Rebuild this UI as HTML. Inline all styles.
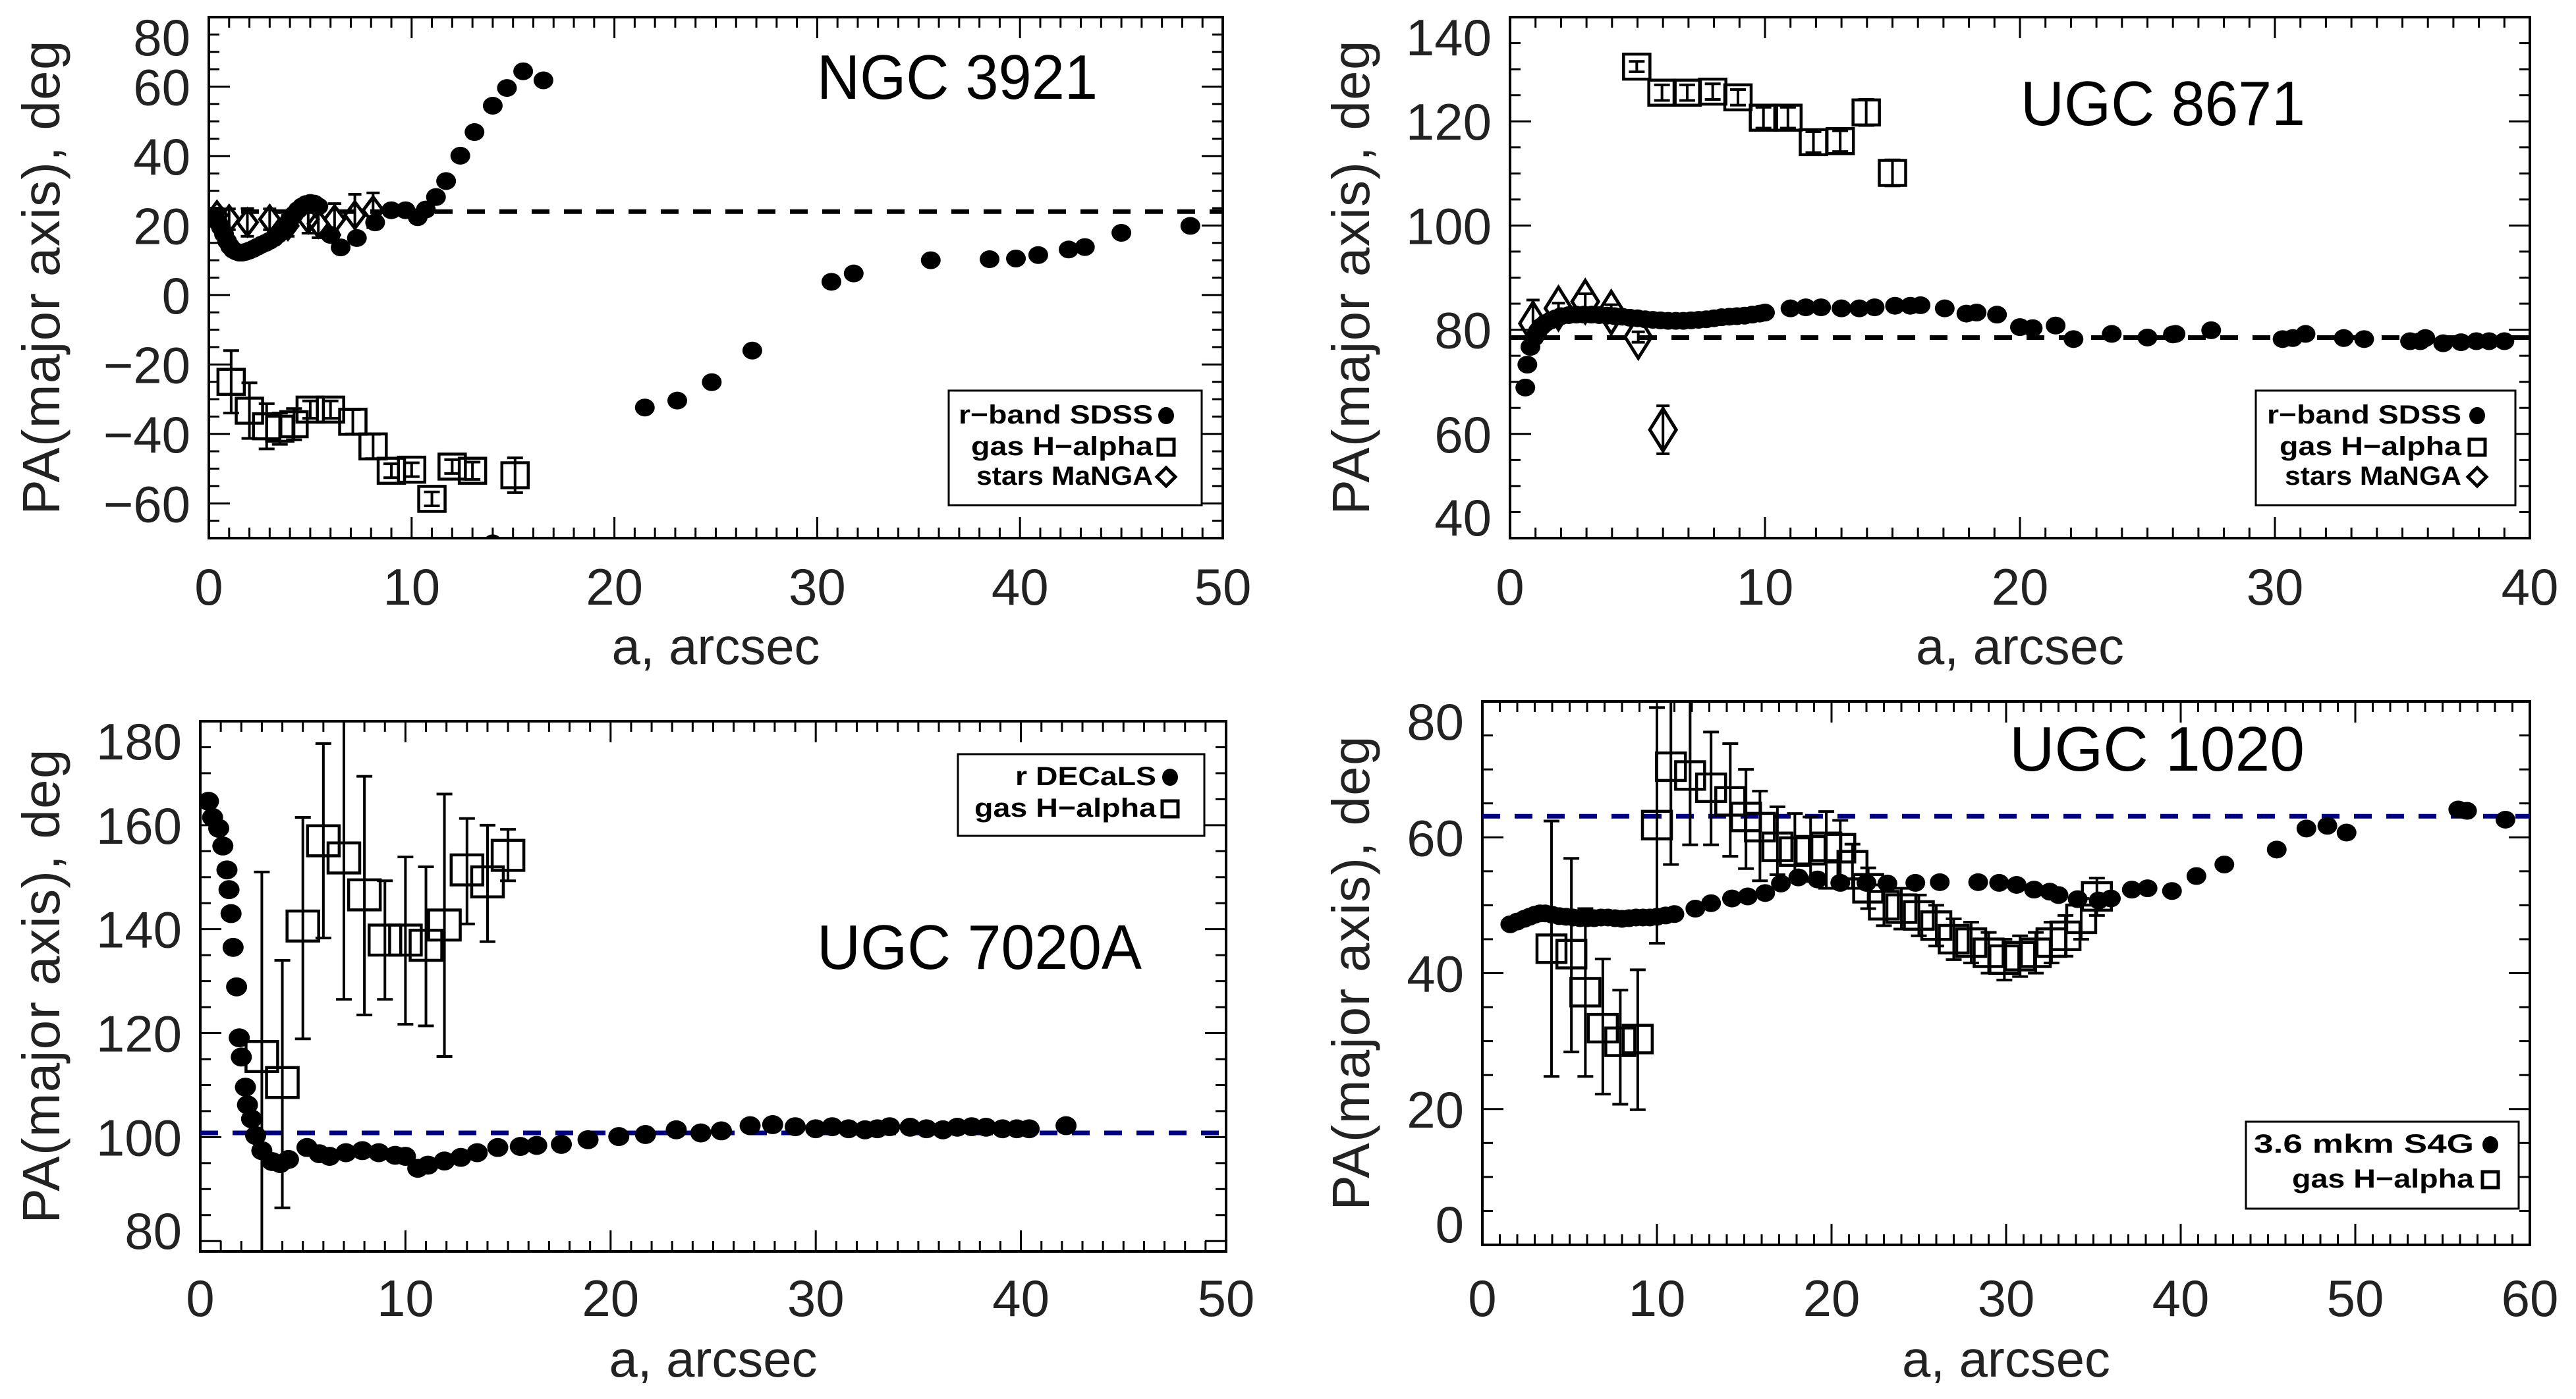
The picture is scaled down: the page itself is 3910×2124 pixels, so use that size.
<!DOCTYPE html>
<html><head><meta charset="utf-8"><title>PA profiles</title>
<style>html,body{margin:0;padding:0;background:#fff;}svg{display:block;}</style></head>
<body>
<svg id="fig" xmlns="http://www.w3.org/2000/svg" width="3910" height="2124" viewBox="0 0 3910 2124"></svg>
<script>
// ---------- NGC 3921 ----------
const p1CircX=[0.3,0.45,0.6,0.75,0.9,1.05,1.2,1.35,1.5,1.65,1.8,2.0,2.2,2.4,2.6,2.8,3.0,3.2,3.4,3.6,3.8,4.0,4.2,4.4,4.6,4.8,5.0,5.2,5.4,6.0,6.5,7.3,8.2,9.0,9.7,10.3,10.7,11.2,11.7,12.4,13.1,14.0,14.7,15.5,16.5,21.5,23.1,24.8,26.8,30.7,31.8,35.6,38.5,39.8,40.9,42.4,43.2,45.0,48.4,14.0];
const p1CircY=[22,21,19.5,17.5,15.5,14,13,12.5,12.2,12.2,12.4,12.8,13.3,13.9,14.5,15,15.6,16.3,17.3,18.5,20,21.7,23.2,24.5,25.5,26.2,26.5,26.3,25.5,17.3,13.7,16.4,20.9,24.4,24.4,22.4,24.6,28.2,32.8,40.1,46.9,54.5,59.6,64.4,61.8,-32.4,-30.4,-25.1,-16.0,3.8,6.2,10.0,10.3,10.5,11.5,13.1,13.8,17.9,19.9,-71.5];
const p1SqX=[1.1,2.0,2.85,3.5,4.2,5.0,6.0,7.1,8.1,9.0,10.0,11.0,12.0,13.0,15.1];
const p1SqY=[-25,-33.3,-37.8,-38.5,-37.2,-33,-33,-36.5,-43.6,-50.6,-50.3,-58.7,-49.4,-50.6,-51.9];
const p1SqErr=[9,8,6.5,4.5,4.5,2.5,2.5,3.5,3.5,2,2,2,2,2.5,5];
const p1DiaX=[0.4,1.0,1.9,3.0,3.9,4.9,5.4,6.2,7.2,8.1];
const p1DiaY=[23,21.8,20.9,21.8,19.9,21.8,20.5,21.8,23,24.4];
const p1DiaErr=[2,3,4,3,3,4,4,4.5,6,5];
const p1Ref=[24];
const p1XTicks=[0,10,20,30,40,50];
const p1YTicks=[-60,-40,-20,0,20,40,60,80];
const p1YLabels=["\u221260","\u221240","\u221220","0","20","40","60","80"];

// ---------- UGC 8671 ----------
const p2CircX=[0.6,0.68,0.8,0.95,1.1,1.25,1.4,1.6,1.8,2.0,2.3,2.6,2.9,3.2,3.5,3.8,4.1,4.4,4.7,5.0,5.3,5.6,5.9,6.2,6.5,6.8,7.1,7.4,7.7,8.0,8.3,8.6,8.9,9.2,9.5,9.8,10.0,11.0,11.6,12.2,13.0,13.7,14.3,15.1,15.7,16.1,17.05,17.9,18.3,19.1,20.0,20.5,21.4,22.1,23.6,25.0,26.0,26.1,27.5,30.3,30.7,31.2,32.7,33.5,35.3,35.7,35.9,36.6,37.3,37.9,38.4,39.0];
const p2CircY=[68.9,73.3,76.7,78.5,79.8,80.7,81.3,81.8,82.2,82.6,82.8,82.9,82.9,82.9,82.8,82.7,82.6,82.5,82.3,82.2,82.0,81.9,81.8,81.7,81.7,81.7,81.8,81.9,82.0,82.2,82.4,82.5,82.6,82.7,82.9,83.1,83.3,84.1,84.3,84.3,84.1,84.1,84.3,84.6,84.6,84.7,84.1,83.1,83.3,82.9,80.5,80.3,80.8,78.2,79.2,78.5,79.1,79.2,79.9,78.2,78.4,79.2,78.4,78.2,77.8,77.8,78.4,77.4,77.6,77.8,77.8,77.8];
const p2SqX=[4.97,5.96,6.95,7.95,8.94,9.94,10.9,11.9,12.95,13.97,15.0];
const p2SqY=[130.5,125.5,125.5,125.7,124.6,120.7,120.7,116,116.2,121.7,110.1];
const p2SqErr=[1,1.5,1.5,1.5,1.5,2,2,2,2,2.5,2.5];
const p2DiaX=[0.9,1.9,2.95,3.97,5.03,6.0];
const p2DiaY=[81.2,84.1,85.4,83.3,78.6,60.8];
const p2DiaErr=[4.5,1,1.5,1.5,1,4.6];
const p2Ref=[78.5];
const p2XTicks=[0,10,20,30,40];
const p2YTicks=[40,60,80,100,120,140];
const p2YLabels=["40","60","80","100","120","140"];

// ---------- UGC 7020A ----------
const p3CircX=[0.4,0.6,0.9,1.1,1.3,1.4,1.5,1.6,1.77,1.9,2.0,2.2,2.3,2.5,2.7,3.0,3.5,3.9,4.3,5.2,5.8,6.3,7.1,7.9,8.7,9.5,10.0,10.6,11.1,11.9,12.7,13.5,14.5,15.6,16.4,17.6,18.9,20.4,21.7,23.2,24.4,25.4,26.8,27.9,29.0,30.0,30.8,31.6,32.4,33.0,33.6,34.6,35.4,36.2,36.9,37.6,38.3,39.1,39.8,40.4,42.2];
const p3CircY=[164.6,161.5,159.4,156,151.4,147.6,143,136.5,128.9,119.1,115.4,109.6,106.2,103.5,100.3,97.4,95.3,94.9,95.7,98,96.8,96.3,97,97.4,97,96.5,96.3,94,94.6,95.4,96.1,97,98,98.2,98.4,98.6,99.5,100.1,100.5,101.4,100.8,101.2,102.2,102.4,102,101.6,102,101.6,101.4,101.6,102,101.9,101.6,101.4,101.9,102,101.9,101.6,101.6,101.6,102.2];
const p3SqX=[3.0,4.0,5.0,6.0,7.0,8.0,9.0,10.0,11.0,11.9,13.0,14.0,15.0];
const p3SqY=[115.5,110.5,140.6,157,153.7,146.6,137.9,137.9,136.9,140.8,151.4,149.1,154.2];
const p3SqLo=[70,86.4,118.9,138.3,126.5,123.5,126.5,121.7,121.4,115.5,141,137.6,149.3];
const p3SqHi=[151,134,161.5,175.7,185,169.4,149.3,153.9,152,166,161.3,160,159.2];
const p3Ref=[100.8];
const p3XTicks=[0,10,20,30,40,50];
const p3YTicks=[80,100,120,140,160,180];
const p3YLabels=["80","100","120","140","160","180"];

// ---------- UGC 1020 ----------
const p4CircX=[1.6,2.0,2.4,2.7,3.0,3.3,3.6,4.0,4.4,4.8,5.2,5.6,6.0,6.4,6.8,7.2,7.6,8.0,8.4,8.8,9.2,9.6,10.0,10.5,11.0,12.2,13.1,14.3,15.2,16.2,17.1,18.1,19.2,20.5,22.0,23.2,24.8,26.2,28.4,29.6,30.6,31.6,32.5,33.0,34.1,35.3,36.0,37.2,38.1,39.5,40.9,42.5,45.5,47.2,48.4,49.5,55.9,56.4,58.6];
const p4CircY=[47.2,47.6,48.0,48.3,48.6,48.8,48.8,48.6,48.4,48.3,48.2,48.1,48.1,48.1,48.2,48.2,48.1,48.0,48.1,48.2,48.2,48.2,48.3,48.5,48.7,49.5,50.3,51,51.3,51.8,53.2,54.1,53.8,53.3,53.3,53.2,53.3,53.4,53.4,53.3,53,52.3,52,51.5,50.9,50.7,51,52.3,52.5,52.1,54.3,56,58.2,61.3,61.7,60.7,64.1,63.9,62.6];
const p4SqX=[3.96,5.1,5.9,6.9,7.9,8.9,10.0,10.8,11.9,13.1,14.2,15.1,15.9,16.9,17.9,18.8,19.7,20.5,21.2,22.1,23.0,24.0,25.0,26.0,27.0,28.0,29.0,29.9,30.8,31.7,32.6,33.4,34.3,35.2];
const p4SqY=[43.6,42.8,37.2,31.9,29.9,30.3,61.8,70.4,69.1,67.3,65.3,63,61.5,58.6,57.9,58.1,58.6,58.4,55.9,52.5,50.0,49.5,48.5,47.0,45.0,44.5,43.0,42.0,42.5,43.0,44.5,45.5,48.0,51.3];
const p4SqLo=[24.8,28.4,24.8,22.2,20.7,19.9,44.4,56,58.9,58.9,57.2,55.4,53.6,54.5,53.5,53.5,52.5,53.7,52.5,49.5,47,46.5,45.5,44,42,41.5,40,39,39.5,40,41.5,42.5,45,48.5];
const p4SqHi=[62.4,56.9,49.5,42.1,37.5,40.5,79.1,85,85,75.5,73.8,70,66.8,64.5,63.5,63,63.8,62.5,59,55.5,53,52.5,51.5,50,48,47.5,46,45,45.5,46,47.5,48.5,51,54];
const p4Ref=[63.1];
const p4XTicks=[0,10,20,30,40,50,60];
const p4YTicks=[0,20,40,60,80];
const p4YLabels=["0","20","40","60","80"];

const NS="http://www.w3.org/2000/svg";
const svg=document.getElementById('fig');
function mk(tag,attrs,parent){const e=document.createElementNS(NS,tag);for(const k in attrs)e.setAttribute(k,attrs[k]);(parent||svg).appendChild(e);return e;}

function makePanel(id,cfg){
  const g=mk('g',{});
  
  
  const L=cfg.L,R=cfg.R,T=cfg.T,B=cfg.B;
  const sx=v=>L+(v-cfg.x0)/(cfg.x1-cfg.x0)*(R-L);
  const sy=v=>B-(v-cfg.y0)/(cfg.y1-cfg.y0)*(B-T);
  const cp=mk('clipPath',{id:id+'-clip'},g);
  mk('rect',{x:L,y:T,width:R-L,height:B-T},cp);
  const tk=mk('g',{stroke:'#000','stroke-width':3},g);
  
  
  for(let v=cfg.x0;v<=cfg.x1+1e-9;v+=1){
    const major=Math.abs(v/10-Math.round(v/10))<1e-6;const len=major?32:16;const x=sx(v);
    mk('line',{x1:x,y1:B,x2:x,y2:B-len},tk);mk('line',{x1:x,y1:T,x2:x,y2:T+len},tk);
  }
  const ys=Math.ceil(cfg.y0/5)*5;
  for(let v=ys;v<=cfg.y1+1e-9;v+=5){
    const major=Math.abs(v/20-Math.round(v/20))<1e-6;const len=major?32:16;const y=sy(v);
    mk('line',{x1:L,y1:y,x2:L+len,y2:y},tk);mk('line',{x1:R,y1:y,x2:R-len,y2:y},tk);
  }
  const box=mk('rect',{x:L,y:T,width:R-L,height:B-T,fill:'none',stroke:'#000','stroke-width':4},g);
  
  
  cfg.xt.forEach(v=>{
    const t=mk('text',{x:sx(v),y:cfg.xlY,'text-anchor':'middle','font-size':78,'font-family':'Liberation Sans, sans-serif',fill:'#222'},g);
    t.textContent=String(v);
    
    
  });
  cfg.yt.forEach((v,i)=>{
    let y=sy(v)+28;y=Math.max(T+58,Math.min(B-4,y));
    const t=mk('text',{x:L-28,y:y,'text-anchor':'end','font-size':78,'font-family':'Liberation Sans, sans-serif',fill:'#222'},g);
    t.textContent=cfg.yl[i];
    
    
  });
  const xt=mk('text',{x:(L+R)/2,y:cfg.xtY,'text-anchor':'middle','font-size':78,'font-family':'Liberation Sans, sans-serif',fill:'#222',textLength:316,lengthAdjust:'spacingAndGlyphs'},g);
  xt.textContent='a, arcsec';
  
  
  const cy=(T+B)/2;
  const yt=mk('text',{x:0,y:0,transform:`translate(${cfg.ytX},${cy}) rotate(-90)`,'text-anchor':'middle','font-size':80,'font-family':'Liberation Sans, sans-serif',fill:'#222',textLength:720,lengthAdjust:'spacing'},g);
  yt.textContent='PA(major axis), deg';
  
  
  const tt=mk('text',{x:cfg.title[1],y:cfg.title[2],'font-size':96,'font-family':'Liberation Sans, sans-serif',fill:'#000',textLength:cfg.title[3],lengthAdjust:'spacingAndGlyphs'},g);
  tt.textContent=cfg.title[0];
  
  
  const dg=mk('g',{'clip-path':`url(#${id}-clip)`},g);
  cfg.ref.forEach(v=>{
    const ln=mk('line',{x1:L,x2:R,y1:sy(v),y2:sy(v),stroke:cfg.refColor,'stroke-width':7,'stroke-dasharray':'27 22'},dg);
    
    
  });
  const rr=cfg.r;
  function errbar(x,lo,hi,cap){
    const eg=mk('g',{stroke:'#000','stroke-width':4},dg);
    
    
    mk('line',{x1:sx(x),x2:sx(x),y1:sy(lo),y2:sy(hi)},eg);
    mk('line',{x1:sx(x)-cap,x2:sx(x)+cap,y1:sy(lo),y2:sy(lo)},eg);
    mk('line',{x1:sx(x)-cap,x2:sx(x)+cap,y1:sy(hi),y2:sy(hi)},eg);
  }
  if(cfg.dia){const [dx,dy,de]=cfg.dia;dx.forEach((x,i)=>{
    errbar(x,dy[i]-de[i],dy[i]+de[i],10);
    const cx=sx(x),c=sy(dy[i]),w=cfg.dw,h=cfg.dh;
    const p=mk('polygon',{points:`${cx},${c-h} ${cx+w},${c} ${cx},${c+h} ${cx-w},${c}`,fill:'none',stroke:'#000','stroke-width':5},dg);
    
    
  });}
  cfg.circX.forEach((x,i)=>{
    const c=mk('ellipse',{cx:sx(x),cy:sy(cfg.circY[i]),rx:rr,ry:rr*0.9,fill:'#000'},dg);
    
    
  });
  const [qx,qy,qlo,qhi]=cfg.sq;const h=cfg.sh;
  qx.forEach((x,i)=>{
    errbar(x,qlo[i],qhi[i],12);
    const s=mk('rect',{x:sx(x)-h,y:sy(qy[i])-h*0.95,width:2*h,height:2*h*0.95,fill:'none',stroke:'#000','stroke-width':4.5},dg);
    
    
  });
  const lg=cfg.leg;
  const lgG=mk('g',{},g);
  
  
  mk('rect',{x:lg.x,y:lg.y,width:lg.w,height:lg.h,fill:'#fff',stroke:'#000','stroke-width':3},lgG);
  lg.items.forEach(it=>{
    const eg=mk('g',{},lgG);
    
    
    const t=mk('text',{x:lg.tx,y:it[1],'text-anchor':'end','font-size':40,'font-weight':'bold','font-family':'Liberation Sans Narrow, Liberation Sans, sans-serif',fill:'#000',textLength:it[2],lengthAdjust:'spacingAndGlyphs'},eg);
    t.textContent=it[0];
    const sxm=lg.sx,sym=it[1]-12;
    if(it[3]==='c')mk('ellipse',{cx:sxm,cy:sym,rx:12,ry:13,fill:'#000'},eg);
    if(it[3]==='s')mk('rect',{x:sxm-12,y:sym-12,width:24,height:24,fill:'none',stroke:'#000','stroke-width':5},eg);
    if(it[3]==='d')mk('polygon',{points:`${sxm},${sym-14} ${sxm+14},${sym} ${sxm},${sym+14} ${sxm-14},${sym}`,fill:'none',stroke:'#000','stroke-width':5},eg);
  });
}

function sym(y,e){return [y.map((v,i)=>v-e[i]),y.map((v,i)=>v+e[i])];}

makePanel('ngc3921',{L:317,R:1856,T:26,B:817,x0:0,x1:50,y0:-70,y1:80,xt:p1XTicks,yt:p1YTicks,yl:p1YLabels,xlY:918,xtY:1008,ytX:90,
  title:['NGC 3921',1240,150,426],ref:p1Ref,refColor:'#000',r:15,circX:p1CircX,circY:p1CircY,
  sq:[p1SqX,p1SqY,...sym(p1SqY,p1SqErr)],sh:20,dia:[p1DiaX,p1DiaY,p1DiaErr],dw:15,dh:20,
  leg:{x:1440,y:593,w:384,h:174,tx:1750,sx:1770,items:[['r\u2212band SDSS',643,295,'c'],['gas H\u2212alpha',691,276,'s'],['stars MaNGA',736,268,'d']]}});
makePanel('ugc8671',{L:2292,R:3840,T:26,B:817,x0:0,x1:40,y0:40,y1:140,xt:p2XTicks,yt:p2YTicks,yl:p2YLabels,xlY:918,xtY:1008,ytX:2078,
  title:['UGC 8671',3067,190,432],ref:p2Ref,refColor:'#000',r:15,circX:p2CircX,circY:p2CircY,
  sq:[p2SqX,p2SqY,...sym(p2SqY,p2SqErr)],sh:20,dia:[p2DiaX,p2DiaY,p2DiaErr],dw:20,dh:32,
  leg:{x:3424,y:593,w:394,h:174,tx:3736,sx:3760,items:[['r\u2212band SDSS',643,295,'c'],['gas H\u2212alpha',691,276,'s'],['stars MaNGA',736,268,'d']]}});
makePanel('ugc7020a',{L:304,R:1861,T:1095,B:1900,x0:0,x1:50,y0:78,y1:180,xt:p3XTicks,yt:p3YTicks,yl:p3YLabels,xlY:1998,xtY:2090,ytX:90,
  title:['UGC 7020A',1240,1471,493],ref:p3Ref,refColor:'#000080',r:16,circX:p3CircX,circY:p3CircY,
  sq:[p3SqX,p3SqY,p3SqLo,p3SqHi],sh:24,dia:null,
  leg:{x:1454,y:1145,w:374,h:124,tx:1755,sx:1776,items:[['r DECaLS',1192,214,'c'],['gas H\u2212alpha',1240,276,'s']]}});
makePanel('ugc1020',{L:2250,R:3840,T:1065,B:1890,x0:0,x1:60,y0:0,y1:80,xt:p4XTicks,yt:p4YTicks,yl:p4YLabels,xlY:1998,xtY:2090,ytX:2078,
  title:['UGC 1020',3050,1170,448],ref:p4Ref,refColor:'#000080',r:15,circX:p4CircX,circY:p4CircY,
  sq:[p4SqX,p4SqY,p4SqLo,p4SqHi],sh:22,dia:null,
  leg:{x:3409,y:1703,w:414,h:132,tx:3755,sx:3780,items:[['3.6 mkm S4G',1750,334,'c'],['gas H\u2212alpha',1803,276,'s']]}});
</script>
</body></html>
